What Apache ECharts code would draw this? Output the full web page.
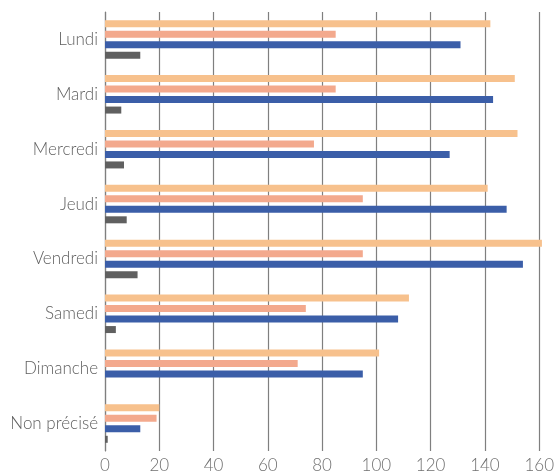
<!DOCTYPE html>
<html>
<head>
<meta charset="utf-8">
<script src="https://cdn.jsdelivr.net/npm/echarts@6/dist/echarts.min.js"></script>
<style>html,body{margin:0;padding:0;background:#fff}#c{width:557px;height:474px}</style>
</head>
<body>
<div id="c"></div>
<script>
const categories = ["Lundi", "Mardi", "Mercredi", "Jeudi", "Vendredi", "Samedi", "Dimanche", "Non précisé"];
const serieA = [142, 151, 152, 141, 161, 112, 101, 20];
const serieB = [85, 85, 77, 95, 95, 74, 71, 19];
const serieC = [131, 143, 127, 148, 154, 108, 95, 13];
const serieD = [13, 6, 7, 8, 12, 4, 0, 1];
const xTicks = [0, 20, 40, 60, 80, 100, 120, 140, 160];

const chart = echarts.init(document.getElementById('c'), null, {renderer: 'canvas'});
const font = 'Lato';
function bar(name, data, color) {
  return {name, type: 'bar', data, barWidth: 7, barGap: '50%', clip: false,
    itemStyle: {color}, animation: false};
}
chart.setOption({
  animation: false,
  grid: {left: 105, right: 12, top: 12, bottom: 20, containLabel: false},
  xAxis: {
    type: 'value', min: xTicks[0], max: xTicks[xTicks.length - 1], interval: 20,
    axisLine: {show: false}, axisTick: {show: false},
    splitLine: {show: true, lineStyle: {color: '#7f7f7f', width: 1.2}},
    axisLabel: {color: '#707070', fontFamily: font, fontSize: 17, fontWeight: 300, margin: 6}
  },
  yAxis: {
    type: 'category', data: categories, inverse: true,
    axisLine: {show: true, lineStyle: {color: '#7f7f7f', width: 1.2}},
    axisTick: {show: false},
    axisLabel: {color: '#606060', fontFamily: font, fontSize: 17, fontWeight: 300, margin: 7}
  },
  series: [
    bar('A', serieA, '#F7C18D'),
    bar('B', serieB, '#F3A98D'),
    bar('C', serieC, '#3B5EA8'),
    bar('D', serieD, '#606060')
  ]
});
</script>
</body>
</html>
